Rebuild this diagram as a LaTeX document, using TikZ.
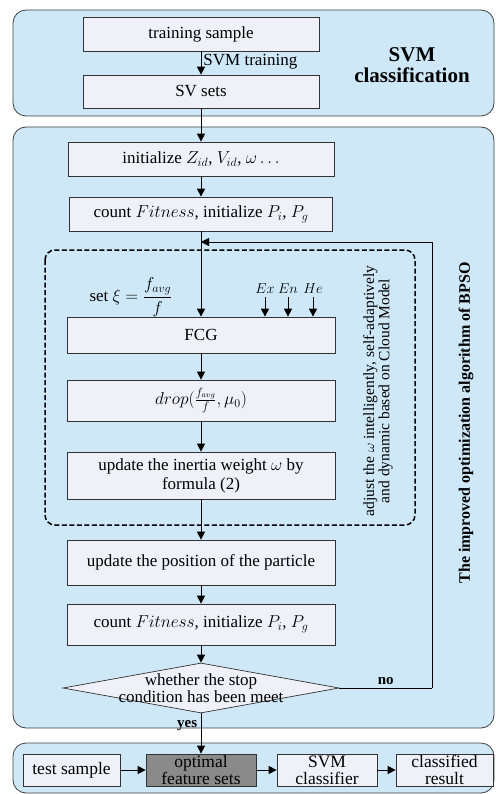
\documentclass[tikz,border=0pt]{standalone}
\usepackage{amsmath}
\usepackage{fontspec}
\setmainfont{Liberation Serif}
\usetikzlibrary{positioning,arrows.meta,shapes.geometric}
\definecolor{panelblue}{RGB}{206,232,247}
\definecolor{boxfill}{RGB}{240,241,248}
\definecolor{darkbox}{RGB}{138,138,138}

\begin{document}
\begin{tikzpicture}[x=1pt, y=-1pt, font=\fontsize{17}{19}\selectfont,
  panel/.style={draw=black!75, line width=0.8pt, rounded corners=13pt, fill=panelblue},
  box/.style={draw=black!80, line width=0.7pt, fill=boxfill, align=center, inner sep=1pt, minimum width=268pt, minimum height=36pt},
  small/.style={box, minimum width=97pt, minimum height=32pt, inner sep=0pt, font=\fontsize{17.5}{17}\selectfont},
  arr/.style={-{Triangle[length=8pt,width=8pt]}, line width=0.9pt},
  heading/.style={font=\fontsize{21}{21}\selectfont\bfseries, align=center},
  note/.style={font=\fontsize{14}{14}\selectfont}]

\useasboundingbox (0,0) rectangle (495,794);

% panels
\draw[panel] (13,10) rectangle (494,116);
\draw[panel] (13,127) rectangle (494,728);
\draw[panel] (13,743) rectangle (494,793);

% SVM classification
\node[box, minimum width=236pt, minimum height=34pt] (train) at (201,34) {training sample};
\node[box, minimum width=236pt, minimum height=33pt] (svsets) at (201,91.5) {SV sets};
\node[heading] (svmtitle) at (412,65) {SVM\\classification};

% improved BPSO
\node[box, minimum width=266pt, minimum height=34pt] (init) at (201,159) {initialize $Z_{id}$, $V_{id}$, $\omega\ldots$};
\node[box, minimum width=263pt, minimum height=34pt] (fit1) at (201,214) {count $Fitness$, initialize $P_i$, $P_g$};
\draw[line width=1.5pt, dash pattern=on 5pt off 2.5pt, rounded corners=10pt] (45,250) rectangle (415,525);
\node (setxi) at (131,297) {set $\xi=\dfrac{f_{avg}}{f}$};
\node[box] (fcg) at (201,335) {FCG};
\node[note] (ex) at (265,289) {$Ex$};
\node[note] (en) at (288,289) {$En$};
\node[note] (he) at (313,289) {$He$};
\node[box, minimum height=41pt] (drop) at (201,400.5) {$drop(\frac{f_{avg}}{f},\mu_0)$};
\node[box, minimum height=47pt] (weight) at (201,475.5) {update the inertia weight $\omega$ by\\formula (2)};
\node[rotate=90, font=\fontsize{15.5}{14}\selectfont, align=center] (cloudnote) at (378,391) {adjust the $\omega$ intelligently, self-adaptively\\and dynamic based on Cloud Model};
\node[box, minimum height=45pt] (pos) at (201,562.5) {update the position of the particle};
\node[box, minimum height=41pt] (fit2) at (201,624.5) {count $Fitness$, initialize $P_i$, $P_g$};
\node[diamond, draw=black!80, line width=0.7pt, fill=boxfill, minimum width=276pt, minimum height=50pt, inner sep=0pt] (stop) at (201,688) {};
\node[font=\fontsize{17}{12}\selectfont, align=center] (stoptext) at (stop) {whether the stop\\condition has been meet};
\node[rotate=90, font=\fontsize{16}{18}\selectfont\bfseries] (bpsotitle) at (466,423) {The improved optimization algorithm of BPSO};
\coordinate (loopin) at (201,242);
\coordinate (loopturn) at (432,242);

% classification of test data
\node[small] (test) at (71.5,770) {test sample};
\node[small, minimum width=110pt, fill=darkbox] (optimal) at (201,770) {optimal\\feature sets};
\node[small, minimum width=100pt] (svmc) at (327,770) {SVM\\classifier};
\node[small] (result) at (444.5,770) {classified\\result};

% connectors
\draw[arr] (train) -- node[right, pos=0.45, inner sep=2pt] {SVM training} (svsets);
\draw[arr] (svsets) -- (init);
\draw[arr] (init) -- (fit1);
\draw[arr] (fit1) -- (fcg);
\draw[arr] (ex) -- (ex |- fcg.north);
\draw[arr] (en) -- (en |- fcg.north);
\draw[arr] (he) -- (he |- fcg.north);
\draw[arr] (fcg) -- (drop);
\draw[arr] (drop) -- (weight);
\draw[arr] (weight) -- (pos);
\draw[arr] (pos) -- (fit2);
\draw[arr] (fit2) -- (stop);
\draw[line width=0.9pt] (stop.east) -- node[above, font=\fontsize{15}{15}\selectfont\bfseries] {no} (stop.east -| loopturn);
\draw[arr] (stop.east -| loopturn) -- (loopturn) -- (loopin);
\draw[arr] (stop) -- node[left, pos=0.3, font=\fontsize{15}{15}\selectfont\bfseries] {yes} (optimal);
\draw[arr] (test) -- (optimal);
\draw[arr] (optimal) -- (svmc);
\draw[arr] (svmc) -- (result);
\end{tikzpicture}
\end{document}
